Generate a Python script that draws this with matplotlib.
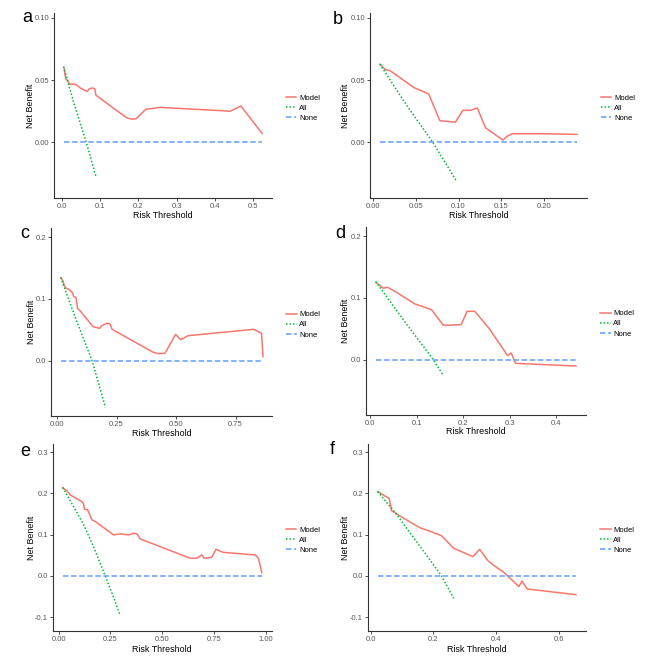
import matplotlib
matplotlib.use("Agg")
import matplotlib.pyplot as plt
from matplotlib.lines import Line2D

plt.rcParams['font.family'] = ['Liberation Sans', 'DejaVu Sans']

# ---------------- data ----------------
a_model_x = [0.0044, 0.009, 0.013, 0.020, 0.034, 0.0485, 0.060, 0.066, 0.0705, 0.079, 0.0855, 0.088, 0.097,
             0.168, 0.181, 0.194, 0.219, 0.256, 0.432, 0.441, 0.469, 0.525]
a_model_y = [0.0597, 0.051, 0.050, 0.0468, 0.0468, 0.0435, 0.0417, 0.041, 0.043, 0.0438, 0.043, 0.038, 0.036,
             0.020, 0.0188, 0.019, 0.0266, 0.0282, 0.0253, 0.025, 0.0293, 0.0073]
a_all_x = [0.003, 0.030, 0.063, 0.088]
a_all_y = [0.061, 0.032, 0.000, -0.027]
a_none_x = [0.003, 0.525]

b_model_x = [0.0078, 0.0145, 0.0195, 0.0477, 0.065, 0.078, 0.0965, 0.105, 0.114, 0.122, 0.1316, 0.152,
             0.157, 0.163, 0.200, 0.239]
b_model_y = [0.0629, 0.0583, 0.0578, 0.0441, 0.039, 0.0175, 0.0164, 0.0258, 0.0258, 0.0277, 0.0118, 0.0019,
             0.0051, 0.007, 0.007, 0.0065]
b_all_x = [0.0078, 0.040, 0.070, 0.097]
b_all_y = [0.0629, 0.029, 0.000, -0.0304]
b_none_x = [0.0078, 0.239]

c_model_x = [0.0154, 0.025, 0.029, 0.0365, 0.053, 0.0645, 0.070, 0.0785, 0.084, 0.0855, 0.102, 0.151, 0.179,
             0.186, 0.2075, 0.2215, 0.231, 0.404, 0.425, 0.453, 0.498, 0.519, 0.551, 0.827, 0.859, 0.865]
c_model_y = [0.1346, 0.129, 0.1227, 0.118, 0.1146, 0.110, 0.1038, 0.1027, 0.0914, 0.0849, 0.0784, 0.0551,
             0.0524, 0.0562, 0.0605, 0.060, 0.0508, 0.0135, 0.0114, 0.0119, 0.0427, 0.034, 0.0405, 0.0508,
             0.0443, 0.0065]
c_all_x = [0.0154, 0.080, 0.147, 0.203]
c_all_y = [0.1346, 0.066, 0.000, -0.0757]
c_none_x = [0.0154, 0.865]

d_model_x = [0.0121, 0.0214, 0.0286, 0.0357, 0.039, 0.057, 0.0964, 0.132, 0.157, 0.166, 0.196, 0.2086,
             0.225, 0.232, 0.257, 0.296, 0.3036, 0.3129, 0.343, 0.443]
d_model_y = [0.1254, 0.120, 0.1157, 0.1173, 0.1168, 0.109, 0.0903, 0.0811, 0.0562, 0.0557, 0.0568, 0.0784,
             0.0784, 0.0724, 0.0497, 0.0065, 0.0108, -0.0059, -0.007, -0.0103]
d_all_x = [0.0121, 0.075, 0.136, 0.157]
d_all_y = [0.1265, 0.061, 0.000, -0.0249]
d_none_x = [0.0121, 0.443]

e_model_x = [0.0193, 0.040, 0.056, 0.1125, 0.1206, 0.124, 0.140, 0.161, 0.177, 0.265, 0.297, 0.338, 0.362,
             0.378, 0.394, 0.635, 0.667, 0.691, 0.703, 0.7395, 0.760, 0.793, 0.9486, 0.965, 0.981]
e_model_y = [0.2143, 0.206, 0.1965, 0.180, 0.174, 0.1617, 0.160, 0.136, 0.132, 0.0995, 0.102, 0.0995, 0.1035,
             0.102, 0.0898, 0.043, 0.043, 0.051, 0.043, 0.0453, 0.0647, 0.0574, 0.051, 0.043, 0.0081]
e_all_x = [0.0193, 0.070, 0.120, 0.170, 0.225, 0.260, 0.297]
e_all_y = [0.2143, 0.170, 0.125, 0.069, 0.000, -0.045, -0.0962]
e_none_x = [0.0193, 0.981]

f_model_x = [0.0223, 0.040, 0.0594, 0.0668, 0.0774, 0.093, 0.157, 0.178, 0.2258, 0.265, 0.3265, 0.3477,
             0.374, 0.395, 0.422, 0.443, 0.473, 0.483, 0.4993, 0.655]
f_model_y = [0.2046, 0.1965, 0.188, 0.158, 0.1536, 0.1455, 0.117, 0.1116, 0.0978, 0.0671, 0.0469, 0.0647,
             0.0372, 0.0243, 0.0105, -0.004, -0.0259, -0.0121, -0.0315, -0.0453]
f_all_x = [0.0223, 0.080, 0.140, 0.190, 0.226, 0.265]
f_all_y = [0.2046, 0.152, 0.090, 0.038, 0.000, -0.054]
f_none_x = [0.0223, 0.655]

panel_letters = ['a', 'b', 'c', 'd', 'e', 'f']
legend_labels = ['Model', 'All', 'None']

panels = [
    (a_model_x, a_model_y, a_all_x, a_all_y, a_none_x),
    (b_model_x, b_model_y, b_all_x, b_all_y, b_none_x),
    (c_model_x, c_model_y, c_all_x, c_all_y, c_none_x),
    (d_model_x, d_model_y, d_all_x, d_all_y, d_none_x),
    (e_model_x, e_model_y, e_all_x, e_all_y, e_none_x),
    (f_model_x, f_model_y, f_all_x, f_all_y, f_none_x),
]

xticks = [[0.0, 0.1, 0.2, 0.3, 0.4, 0.5], [0.0, 0.05, 0.10, 0.15, 0.20],
          [0.0, 0.25, 0.50, 0.75], [0.0, 0.1, 0.2, 0.3, 0.4],
          [0.0, 0.25, 0.50, 0.75, 1.00], [0.0, 0.2, 0.4, 0.6]]
xticklabels = [['0.0', '0.1', '0.2', '0.3', '0.4', '0.5'], ['0.00', '0.05', '0.10', '0.15', '0.20'],
               ['0.00', '0.25', '0.50', '0.75'], ['0.0', '0.1', '0.2', '0.3', '0.4'],
               ['0.00', '0.25', '0.50', '0.75', '1.00'], ['0.0', '0.2', '0.4', '0.6']]
yticks = [[0.0, 0.05, 0.10], [0.0, 0.05, 0.10], [0.0, 0.1, 0.2], [0.0, 0.1, 0.2],
          [-0.1, 0.0, 0.1, 0.2, 0.3], [-0.1, 0.0, 0.1, 0.2, 0.3]]
yticklabels = [['0.00', '0.05', '0.10'], ['0.00', '0.05', '0.10'], ['0.0', '0.1', '0.2'], ['0.0', '0.1', '0.2'],
               ['-0.1', '0.0', '0.1', '0.2', '0.3'], ['-0.1', '0.0', '0.1', '0.2', '0.3']]

# ---------------- layout ----------------
W, H = 661, 671
fig = plt.figure(figsize=(W / 100, H / 100), dpi=100)
fig.patch.set_facecolor('white')

# axes boxes in pixels: left, top, right, bottom
boxes = [(54, 13, 272, 198), (370, 13, 587, 198),
         (50.7, 228, 272, 416), (365.7, 227, 586, 415),
         (52.7, 444, 271.7, 631), (367.7, 444, 586, 631)]
xlims = [(-0.022, 0.551), (-0.0038, 0.2506), (-0.027, 0.903), (-0.0095, 0.4646), (-0.029, 1.029), (-0.0094, 0.687)]
ylims = [(-0.0446, 0.104), (-0.0446, 0.104), (-0.0897, 0.215), (-0.0897, 0.215), (-0.1334, 0.32), (-0.1334, 0.32)]
letter_pos = [(27, 18), (338, 20), (25, 233), (340, 233), (25, 452), (332, 450)]
ylabel_px = [31, 345, 31, 345, 31, 345]
xlabel_py = [215, 215, 434, 432, 649, 649]

C_MODEL = '#F8766D'
C_ALL = '#00BA38'
C_NONE = '#619CFF'
AXC = '#333333'
TICKC = '#555555'

for i, (mx, my, ax_, ay_, nx) in enumerate(panels):
    l, t, r, b = boxes[i]
    ax = fig.add_axes([l / W, (H - b) / H, (r - l) / W, (b - t) / H])
    ax.plot(mx, my, color=C_MODEL, lw=1.1, solid_joinstyle='round')
    ax.plot(ax_, ay_, color=C_ALL, lw=1.1, linestyle=(0, (1, 1.3)))
    ax.plot(nx, [0, 0], color=C_NONE, lw=1.1, linestyle=(0, (3.5, 1.8)))
    ax.set_xlim(*xlims[i])
    ax.set_ylim(*ylims[i])
    ax.set_xticks(xticks[i])
    ax.set_xticklabels(xticklabels[i])
    ax.set_yticks(yticks[i])
    ax.set_yticklabels(yticklabels[i])
    for s in ['top', 'right']:
        ax.spines[s].set_visible(False)
    for s in ['left', 'bottom']:
        ax.spines[s].set_color(AXC)
        ax.spines[s].set_linewidth(0.8)
    ax.tick_params(axis='both', length=2.2, width=0.6, color=AXC, labelsize=5.5,
                   labelcolor=TICKC, pad=1.2)
    ax.set_xlabel('Risk Threshold', fontsize=6.4, color='black')
    ax.set_ylabel('Net Benefit', fontsize=6.4, color='black')
    ax.xaxis.set_label_coords(0.5, (b - xlabel_py[i]) / (b - t))
    ax.xaxis.label.set_va('center')
    ax.yaxis.set_label_coords((ylabel_px[i] - l) / (r - l), 0.5)
    ax.yaxis.label.set_va('center')
    handles = [Line2D([], [], color=C_MODEL, lw=1.1),
               Line2D([], [], color=C_ALL, lw=1.1, linestyle=(0, (1, 1.3))),
               Line2D([], [], color=C_NONE, lw=1.1, linestyle=(0, (3.5, 1.8)))]
    ax.legend(handles, legend_labels, loc='center left', bbox_to_anchor=(1.065, 0.485),
              frameon=False, fontsize=5.5, handlelength=1.35, handletextpad=0.35,
              labelspacing=0.35, borderpad=0, borderaxespad=0)
    lx, ly = letter_pos[i]
    fig.text(lx / W, 1 - ly / H, panel_letters[i], fontsize=13, ha='center', va='center', color='black')

fig.savefig('out.png', dpi=100, facecolor='white')
